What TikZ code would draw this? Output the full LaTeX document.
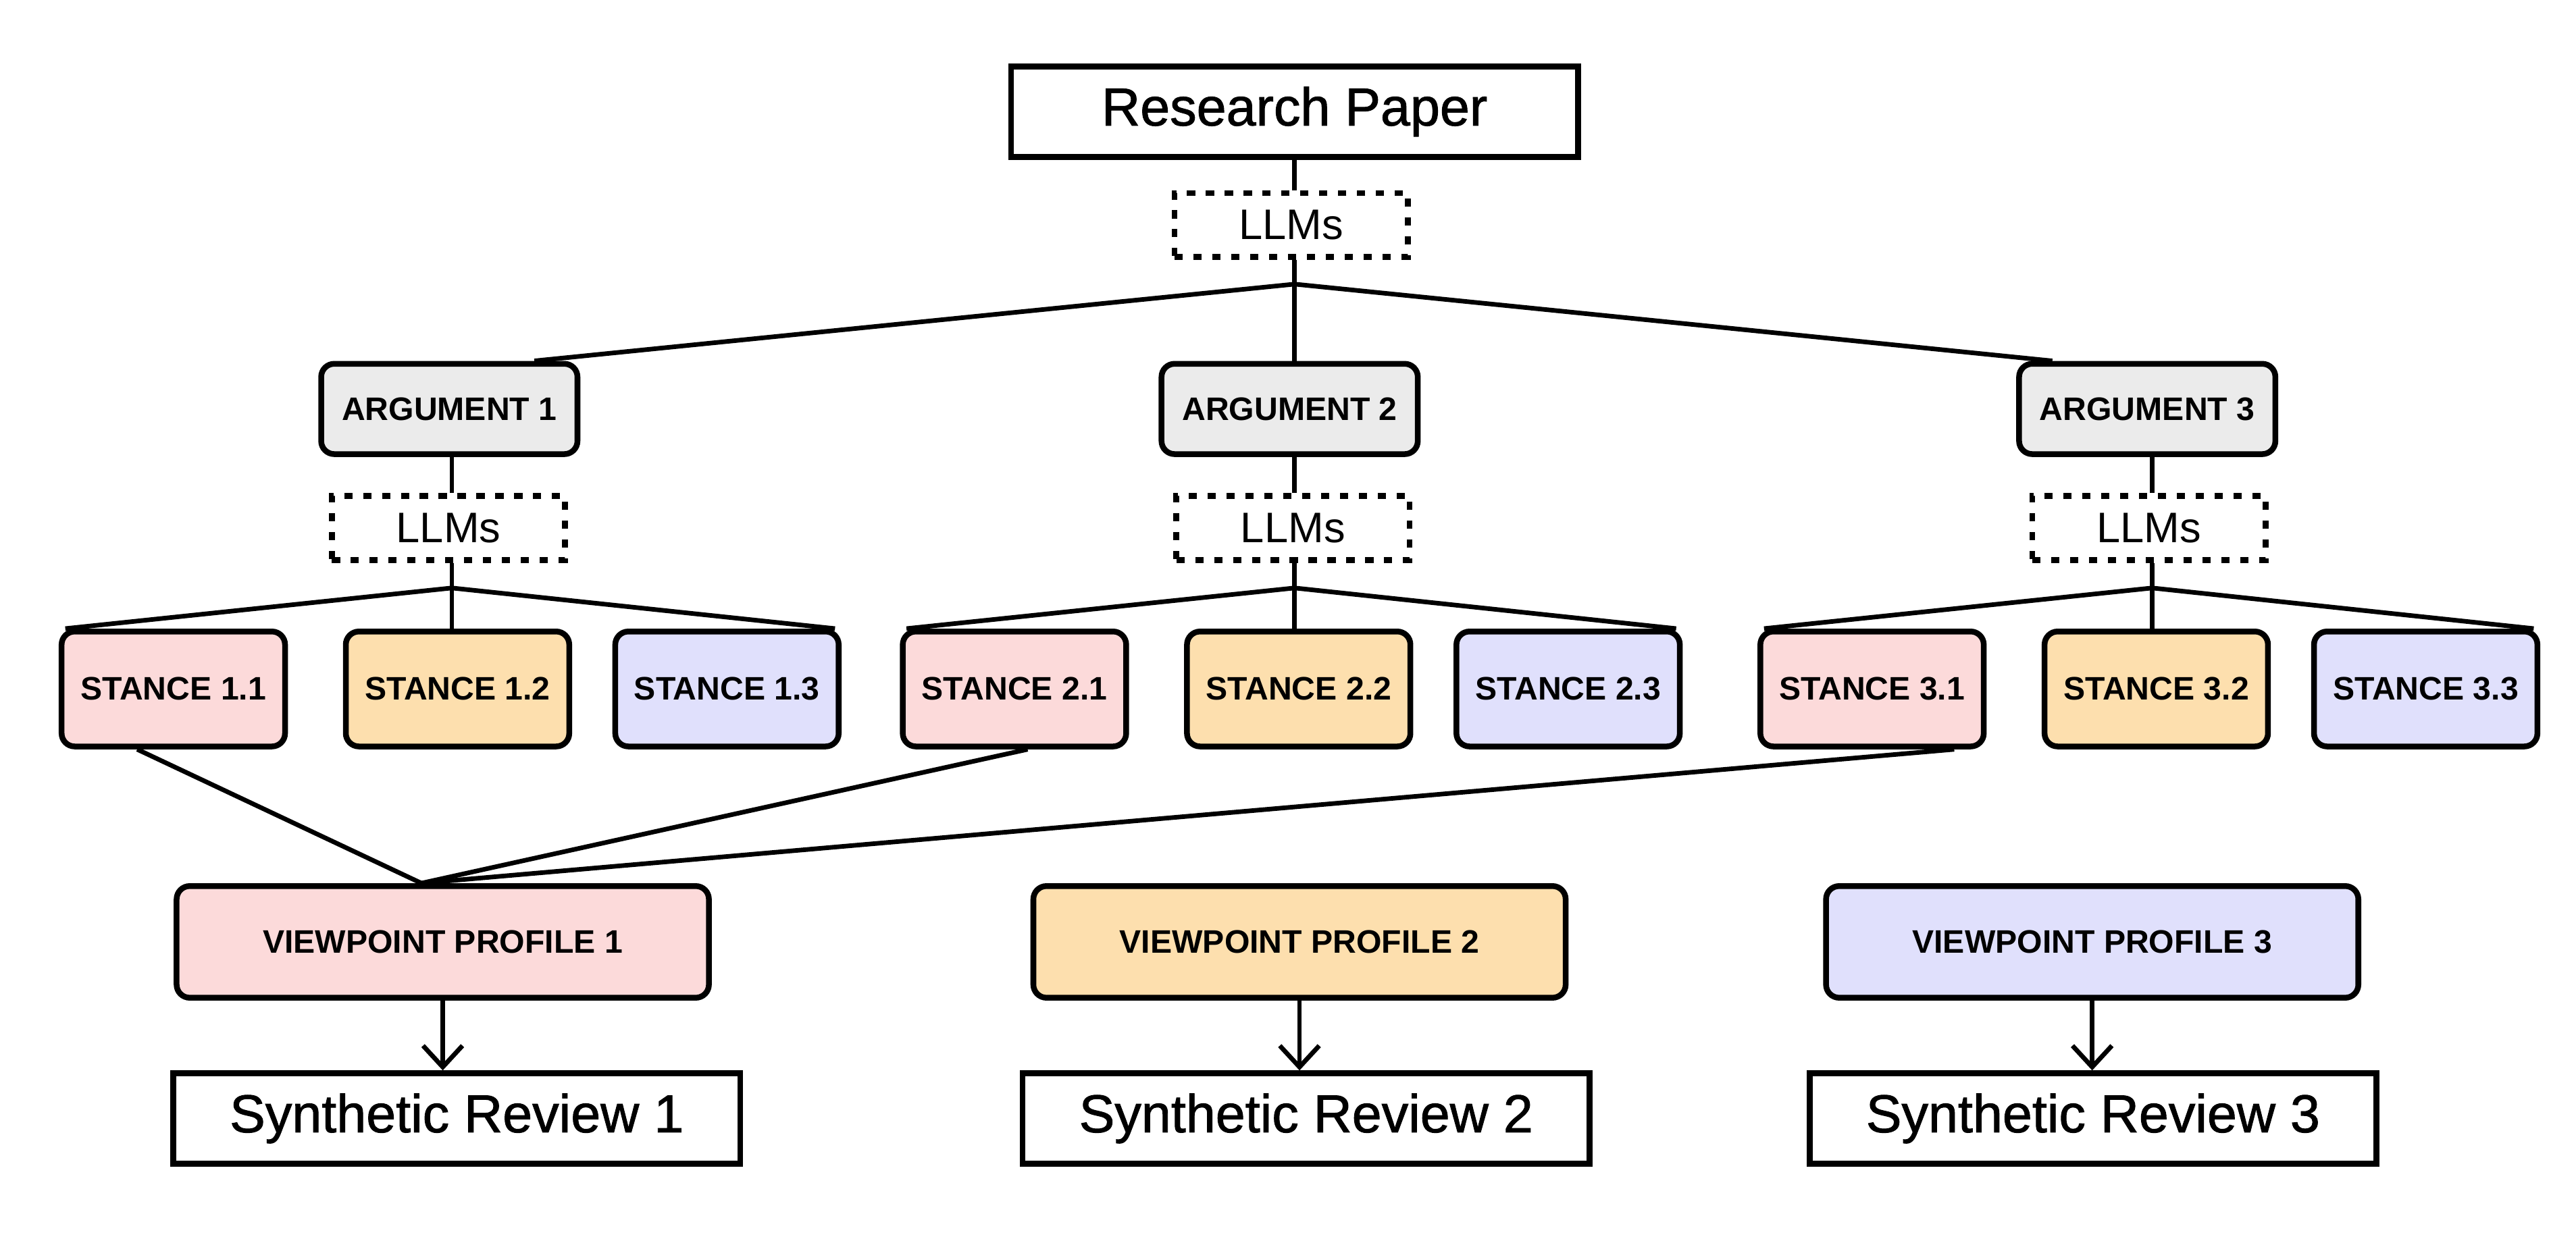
\documentclass[tikz,border=0pt]{standalone}
\usepackage{fontspec}
\setmainfont{Liberation Sans}
\newfontfamily\medfont[FakeBold=1.2]{Liberation Sans}
\usetikzlibrary{arrows.meta,positioning,calc}
\definecolor{greyfill}{HTML}{EBEBEB}
\definecolor{pinkfill}{HTML}{FCDADA}
\definecolor{orangefill}{HTML}{FDDFAE}
\definecolor{lilacfill}{HTML}{E0E0FC}
\tikzset{
  plainbox/.style={draw, line width=3.5pt, minimum width=345pt, minimum height=55pt, inner sep=0pt, font=\medfont\fontsize{32.5}{36}\selectfont},
  llmbox/.style={draw, line width=3.5pt, dash pattern=on 5pt off 6.5pt, minimum width=142pt, minimum height=39pt, inner sep=0pt, font=\fontsize{26}{30}\selectfont},
  tagbox/.style={draw, line width=3.5pt, rounded corners=8pt, inner sep=0pt, font=\bfseries\fontsize{19.8}{23}\selectfont},
  argbox/.style={tagbox, fill=greyfill, minimum width=156pt, minimum height=55pt},
  stancebox/.style={tagbox, minimum width=136pt, minimum height=70pt},
  vpbox/.style={tagbox, minimum width=324pt, minimum height=68pt},
  link/.style={line width=2.8pt},
}
\begin{document}
\begin{tikzpicture}[x=1pt,y=-1pt]
    \fill[white] (0,0) rectangle (1568,754);
    \useasboundingbox (0,0) rectangle (1568,754);

    % top of the tree
    \node[plainbox] (paper) at (788,68) {Research Paper};
    \node[llmbox] (llm0) at (786,137) {LLMs};
    \coordinate (j0) at (788,173);

    \node[argbox] (arg1) at (273.5,249) {ARGUMENT 1};
    \node[argbox] (arg2) at (785,249) {ARGUMENT 2};
    \node[argbox] (arg3) at (1307,249) {ARGUMENT 3};

    \node[llmbox] (llm1) at (273,321.5) {LLMs};
    \node[llmbox] (llm2) at (787,321.5) {LLMs};
    \node[llmbox] (llm3) at (1308,321.5) {LLMs};
    \coordinate (j1) at (275,358);
    \coordinate (j2) at (788,358);
    \coordinate (j3) at (1310,358);

    % stances
    \node[stancebox, fill=pinkfill] (s11) at (105.5,419.5) {STANCE 1.1};
    \node[stancebox, fill=orangefill] (s12) at (278.5,419.5) {STANCE 1.2};
    \node[stancebox, fill=lilacfill] (s13) at (442.5,419.5) {STANCE 1.3};
    \node[stancebox, fill=pinkfill] (s21) at (617.5,419.5) {STANCE 2.1};
    \node[stancebox, fill=orangefill] (s22) at (790.5,419.5) {STANCE 2.2};
    \node[stancebox, fill=lilacfill] (s23) at (954.5,419.5) {STANCE 2.3};
    \node[stancebox, fill=pinkfill] (s31) at (1139.5,419.5) {STANCE 3.1};
    \node[stancebox, fill=orangefill] (s32) at (1312.5,419.5) {STANCE 3.2};
    \node[stancebox, fill=lilacfill] (s33) at (1476.5,419.5) {STANCE 3.3};

    % profiles and reviews
    \node[vpbox, fill=pinkfill] (vp1) at (269.5,573.5) {VIEWPOINT PROFILE 1};
    \node[vpbox, fill=orangefill] (vp2) at (791,573.5) {VIEWPOINT PROFILE 2};
    \node[vpbox, fill=lilacfill] (vp3) at (1273.5,573.5) {VIEWPOINT PROFILE 3};
    \node[plainbox] (rev1) at (278,681) {Synthetic Review 1};
    \node[plainbox] (rev2) at (795,681) {Synthetic Review 2};
    \node[plainbox] (rev3) at (1274,681) {Synthetic Review 3};

    \draw[link] (j0 |- paper.south) -- (j0 |- llm0.north);
    \draw[link] (j0 |- llm0.south) -- (j0);
    \draw[link] (j0) -- ([xshift=-28pt]arg1.north east);
    \draw[link] (j0) -- (j0 |- arg2.north);
    \draw[link] (j0) -- ([xshift=22pt]arg3.north west);

    \draw[link] (j1 |- arg1.south) -- (j1 |- llm1.north);
    \draw[link] (j1 |- llm1.south) -- (j1);
    \draw[link] (j1) -- ([xshift=4pt]s11.north west);
    \draw[link] (j1) -- (j1 |- s12.north);
    \draw[link] (j1) -- ([xshift=-4pt]s13.north east);

    \draw[link] (j2 |- arg2.south) -- (j2 |- llm2.north);
    \draw[link] (j2 |- llm2.south) -- (j2);
    \draw[link] (j2) -- ([xshift=4pt]s21.north west);
    \draw[link] (j2) -- (j2 |- s22.north);
    \draw[link] (j2) -- ([xshift=-4pt]s23.north east);

    \draw[link] (j3 |- arg3.south) -- (j3 |- llm3.north);
    \draw[link] (j3 |- llm3.south) -- (j3);
    \draw[link] (j3) -- ([xshift=4pt]s31.north west);
    \draw[link] (j3) -- (j3 |- s32.north);
    \draw[link] (j3) -- ([xshift=-4pt]s33.north east);

    % first stances feed the first profile
    \draw[link] ([xshift=-22pt]s11.south) -- ([xshift=-13pt]vp1.north);
    \draw[link] ([xshift=8pt]s21.south) -- ([xshift=-13pt]vp1.north);
    \draw[link] ([xshift=50pt]s31.south) -- ([xshift=-13pt]vp1.north);

    \draw[link, -{Straight Barb[length=13pt,width=24pt]}] (vp1) -- (vp1 |- rev1.north);
    \draw[link, -{Straight Barb[length=13pt,width=24pt]}] (vp2) -- (vp2 |- rev2.north);
    \draw[link, -{Straight Barb[length=13pt,width=24pt]}] (vp3) -- (vp3 |- rev3.north);
\end{tikzpicture}
\end{document}
